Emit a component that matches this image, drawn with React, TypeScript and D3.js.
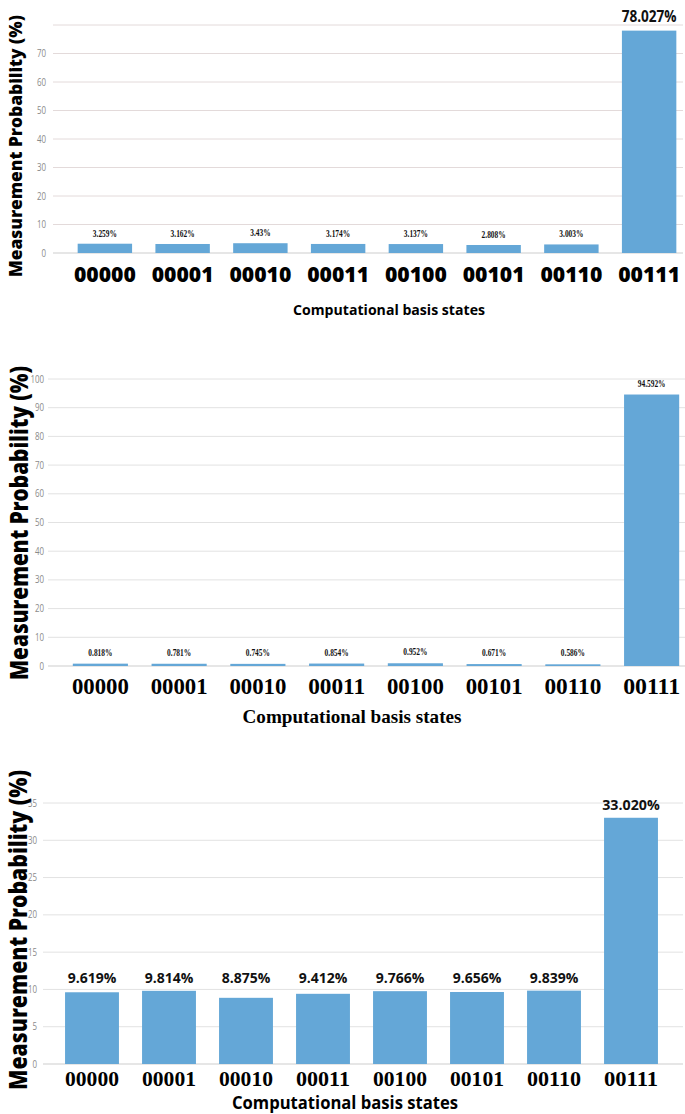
import React from "react";
import * as d3 from "d3";

const states = ["00000", "00001", "00010", "00011", "00100", "00101", "00110", "00111"];

const probsA = [3.259, 3.162, 3.43, 3.174, 3.137, 2.808, 3.003, 78.027];
const labelsA = ["3.259%", "3.162%", "3.43%", "3.174%", "3.137%", "2.808%", "3.003%", "78.027%"];
const ticksA = [0, 10, 20, 30, 40, 50, 60, 70];

const probsB = [0.818, 0.781, 0.745, 0.854, 0.952, 0.671, 0.586, 94.592];
const labelsB = ["0.818%", "0.781%", "0.745%", "0.854%", "0.952%", "0.671%", "0.586%", "94.592%"];
const ticksB = [0, 10, 20, 30, 40, 50, 60, 70, 80, 90, 100];

const probsC = [9.619, 9.814, 8.875, 9.412, 9.766, 9.656, 9.839, 33.02];
const labelsC = ["9.619%", "9.814%", "8.875%", "9.412%", "9.766%", "9.656%", "9.839%", "33.020%"];
const ticksC = [0, 5, 10, 15, 20, 25, 30, 35];

const BAR = "#64a7d7";
const SANS = "'Open Sans', 'Liberation Sans', sans-serif";
const SERIF = "'Liberation Serif', 'DejaVu Serif', serif";

type PanelProps = {
  values: number[];
  labels: string[];
  ticks: number[];
  yMax: number;
  yTop: number;
  yZero: number;
  xBand: [number, number];
  gridX: [number, number];
  tickX: number;
  gridColor: string;
  bigIndex: number;
  alignSmall: boolean;
  smallFont: "serif" | "sans";
  bigFont: "serif" | "sans";
  bigSize: number;
  bigScale: number;
  labelOffset: number;
  bigOffset: number;
  xFont: "serif" | "sans";
  xSize: number;
  xBase: number;
  xLen: number;
  title: { x: number; y: number; size: number; font: "serif" | "sans"; len: number };
  yTitle: { x: number; cy: number; size: number; len: number };
};

function Panel(p: PanelProps) {
  const y = d3.scaleLinear().domain([0, p.yMax]).range([p.yZero, p.yTop]);
  const x = d3.scaleBand<string>().domain(states).range(p.xBand).paddingInner(0.3).paddingOuter(0.15);
  const gridTicks = p.ticks.includes(p.yMax) ? p.ticks : [...p.ticks, p.yMax];
  const smallMax = d3.max(p.values.filter((_, i) => i !== p.bigIndex)) ?? 0;
  return (
    <g>
      {gridTicks.map((t) => (
        <line
          key={"g" + t}
          x1={p.gridX[0]}
          x2={p.gridX[1]}
          y1={y(t)}
          y2={y(t)}
          stroke={t === 0 ? "#e6e6e6" : p.gridColor}
          strokeWidth={t === 0 ? 2 : 1}
        />
      ))}
      {p.ticks.map((t) => (
        <text
          key={"t" + t}
          transform={`translate(${p.tickX},${y(t) + 3.5}) scale(0.72,1)`}
          textAnchor="end"
          fontFamily={SANS}
          fontSize={11}
          fill="#8a8a8a"
        >
          {t}
        </text>
      ))}
      {p.values.map((v, i) => (
        <rect
          key={"b" + i}
          x={x(states[i])!}
          y={y(v)}
          width={x.bandwidth()}
          height={p.yZero - y(v)}
          fill={BAR}
        />
      ))}
      {p.values.map((v, i) => {
        const cx = x(states[i])! + x.bandwidth() / 2;
        if (i === p.bigIndex && p.bigFont === "sans") {
          return (
            <text
              key={"l" + i}
              transform={`translate(${cx},${y(v) - p.bigOffset}) scale(${p.bigScale},1)`}
              textAnchor="middle"
              fontFamily={SANS}
              fontWeight={700}
              fontSize={p.bigSize}
              fill="#111"
            >
              {p.labels[i]}
            </text>
          );
        }
        const ly = i !== p.bigIndex && p.alignSmall ? y(smallMax) : y(v);
        if (p.smallFont === "sans" && i !== p.bigIndex) {
          return (
            <text
              key={"l" + i}
              x={cx}
              y={ly - p.labelOffset}
              textAnchor="middle"
              fontFamily={SANS}
              fontWeight={700}
              fontSize={14}
              fill="#111"
            >
              {p.labels[i]}
            </text>
          );
        }
        return (
          <text
            key={"l" + i}
            transform={`translate(${cx},${ly - p.labelOffset}) scale(0.74,1)`}
            textAnchor="middle"
            fontFamily={SERIF}
            fontWeight={700}
            fontSize={10}
            fill="#111"
          >
            {p.labels[i]}
          </text>
        );
      })}
      {states.map((s) => (
        <text
          key={"x" + s}
          x={x(s)! + x.bandwidth() / 2}
          y={p.xBase}
          textAnchor="middle"
          fontFamily={p.xFont === "serif" ? SERIF : SANS}
          fontWeight={p.xFont === "serif" ? 700 : 800}
          fontSize={p.xSize}
          textLength={p.xLen}
          lengthAdjust="spacingAndGlyphs"
          fill="#000"
        >
          {s}
        </text>
      ))}
      <text
        x={p.title.x}
        y={p.title.y}
        textAnchor="middle"
        fontFamily={p.title.font === "serif" ? SERIF : SANS}
        fontWeight={700}
        fontSize={p.title.size}
        textLength={p.title.len}
        lengthAdjust="spacingAndGlyphs"
        fill="#000"
      >
        Computational basis states
      </text>
      <text
        transform={`translate(${p.yTitle.x},${p.yTitle.cy}) rotate(-90)`}
        textAnchor="middle"
        fontFamily={SANS}
        fontWeight={800}
        fontSize={p.yTitle.size}
        textLength={p.yTitle.len}
        lengthAdjust="spacingAndGlyphs"
        fill="#000"
      >
        Measurement Probability (%)
      </text>
    </g>
  );
}

export default function App() {
  return (
    <svg
      width={685}
      height={1114}
      style={{ position: "absolute", left: 0, top: 0, background: "#fff" }}
    >
      <rect width={685} height={1114} fill="#fff" />
      <Panel
        values={probsA}
        labels={labelsA}
        ticks={ticksA}
        yMax={80}
        yTop={25}
        yZero={253}
        xBand={[66, 688]}
        gridX={[53, 683]}
        tickX={46}
        gridColor="#e3dada"
        bigIndex={7}
        alignSmall={false}
        smallFont="serif"
        bigFont="sans"
        bigSize={16}
        bigScale={0.85}
        labelOffset={7}
        bigOffset={9}
        xFont="sans"
        xSize={21}
        xLen={62}
        xBase={282}
        title={{ x: 389, y: 315, size: 15, font: "sans", len: 192 }}
        yTitle={{ x: 22, cy: 146, size: 17, len: 262 }}
      />
      <Panel
        values={probsB}
        labels={labelsB}
        ticks={ticksB}
        yMax={100}
        yTop={379}
        yZero={666}
        xBand={[61, 691]}
        gridX={[48, 685]}
        tickX={44}
        gridColor="#e2e2e2"
        bigIndex={7}
        alignSmall={false}
        smallFont="serif"
        bigFont="serif"
        bigSize={10}
        bigScale={1}
        labelOffset={8}
        bigOffset={8}
        xFont="serif"
        xSize={23}
        xLen={57}
        xBase={694}
        title={{ x: 352, y: 723, size: 19, font: "serif", len: 219 }}
        yTitle={{ x: 28, cy: 523, size: 25, len: 314 }}
      />
      <Panel
        values={probsC}
        labels={labelsC}
        ticks={ticksC}
        yMax={35}
        yTop={803}
        yZero={1064}
        xBand={[53.5, 669.5]}
        gridX={[43, 683]}
        tickX={37}
        gridColor="#e2e2e2"
        bigIndex={7}
        alignSmall={true}
        smallFont="sans"
        bigFont="sans"
        bigSize={15}
        bigScale={0.95}
        labelOffset={8}
        bigOffset={8}
        xFont="serif"
        xSize={22}
        xLen={54}
        xBase={1086}
        title={{ x: 345, y: 1109, size: 17, font: "sans", len: 226 }}
        yTitle={{ x: 27, cy: 930, size: 24, len: 320 }}
      />
    </svg>
  );
}
